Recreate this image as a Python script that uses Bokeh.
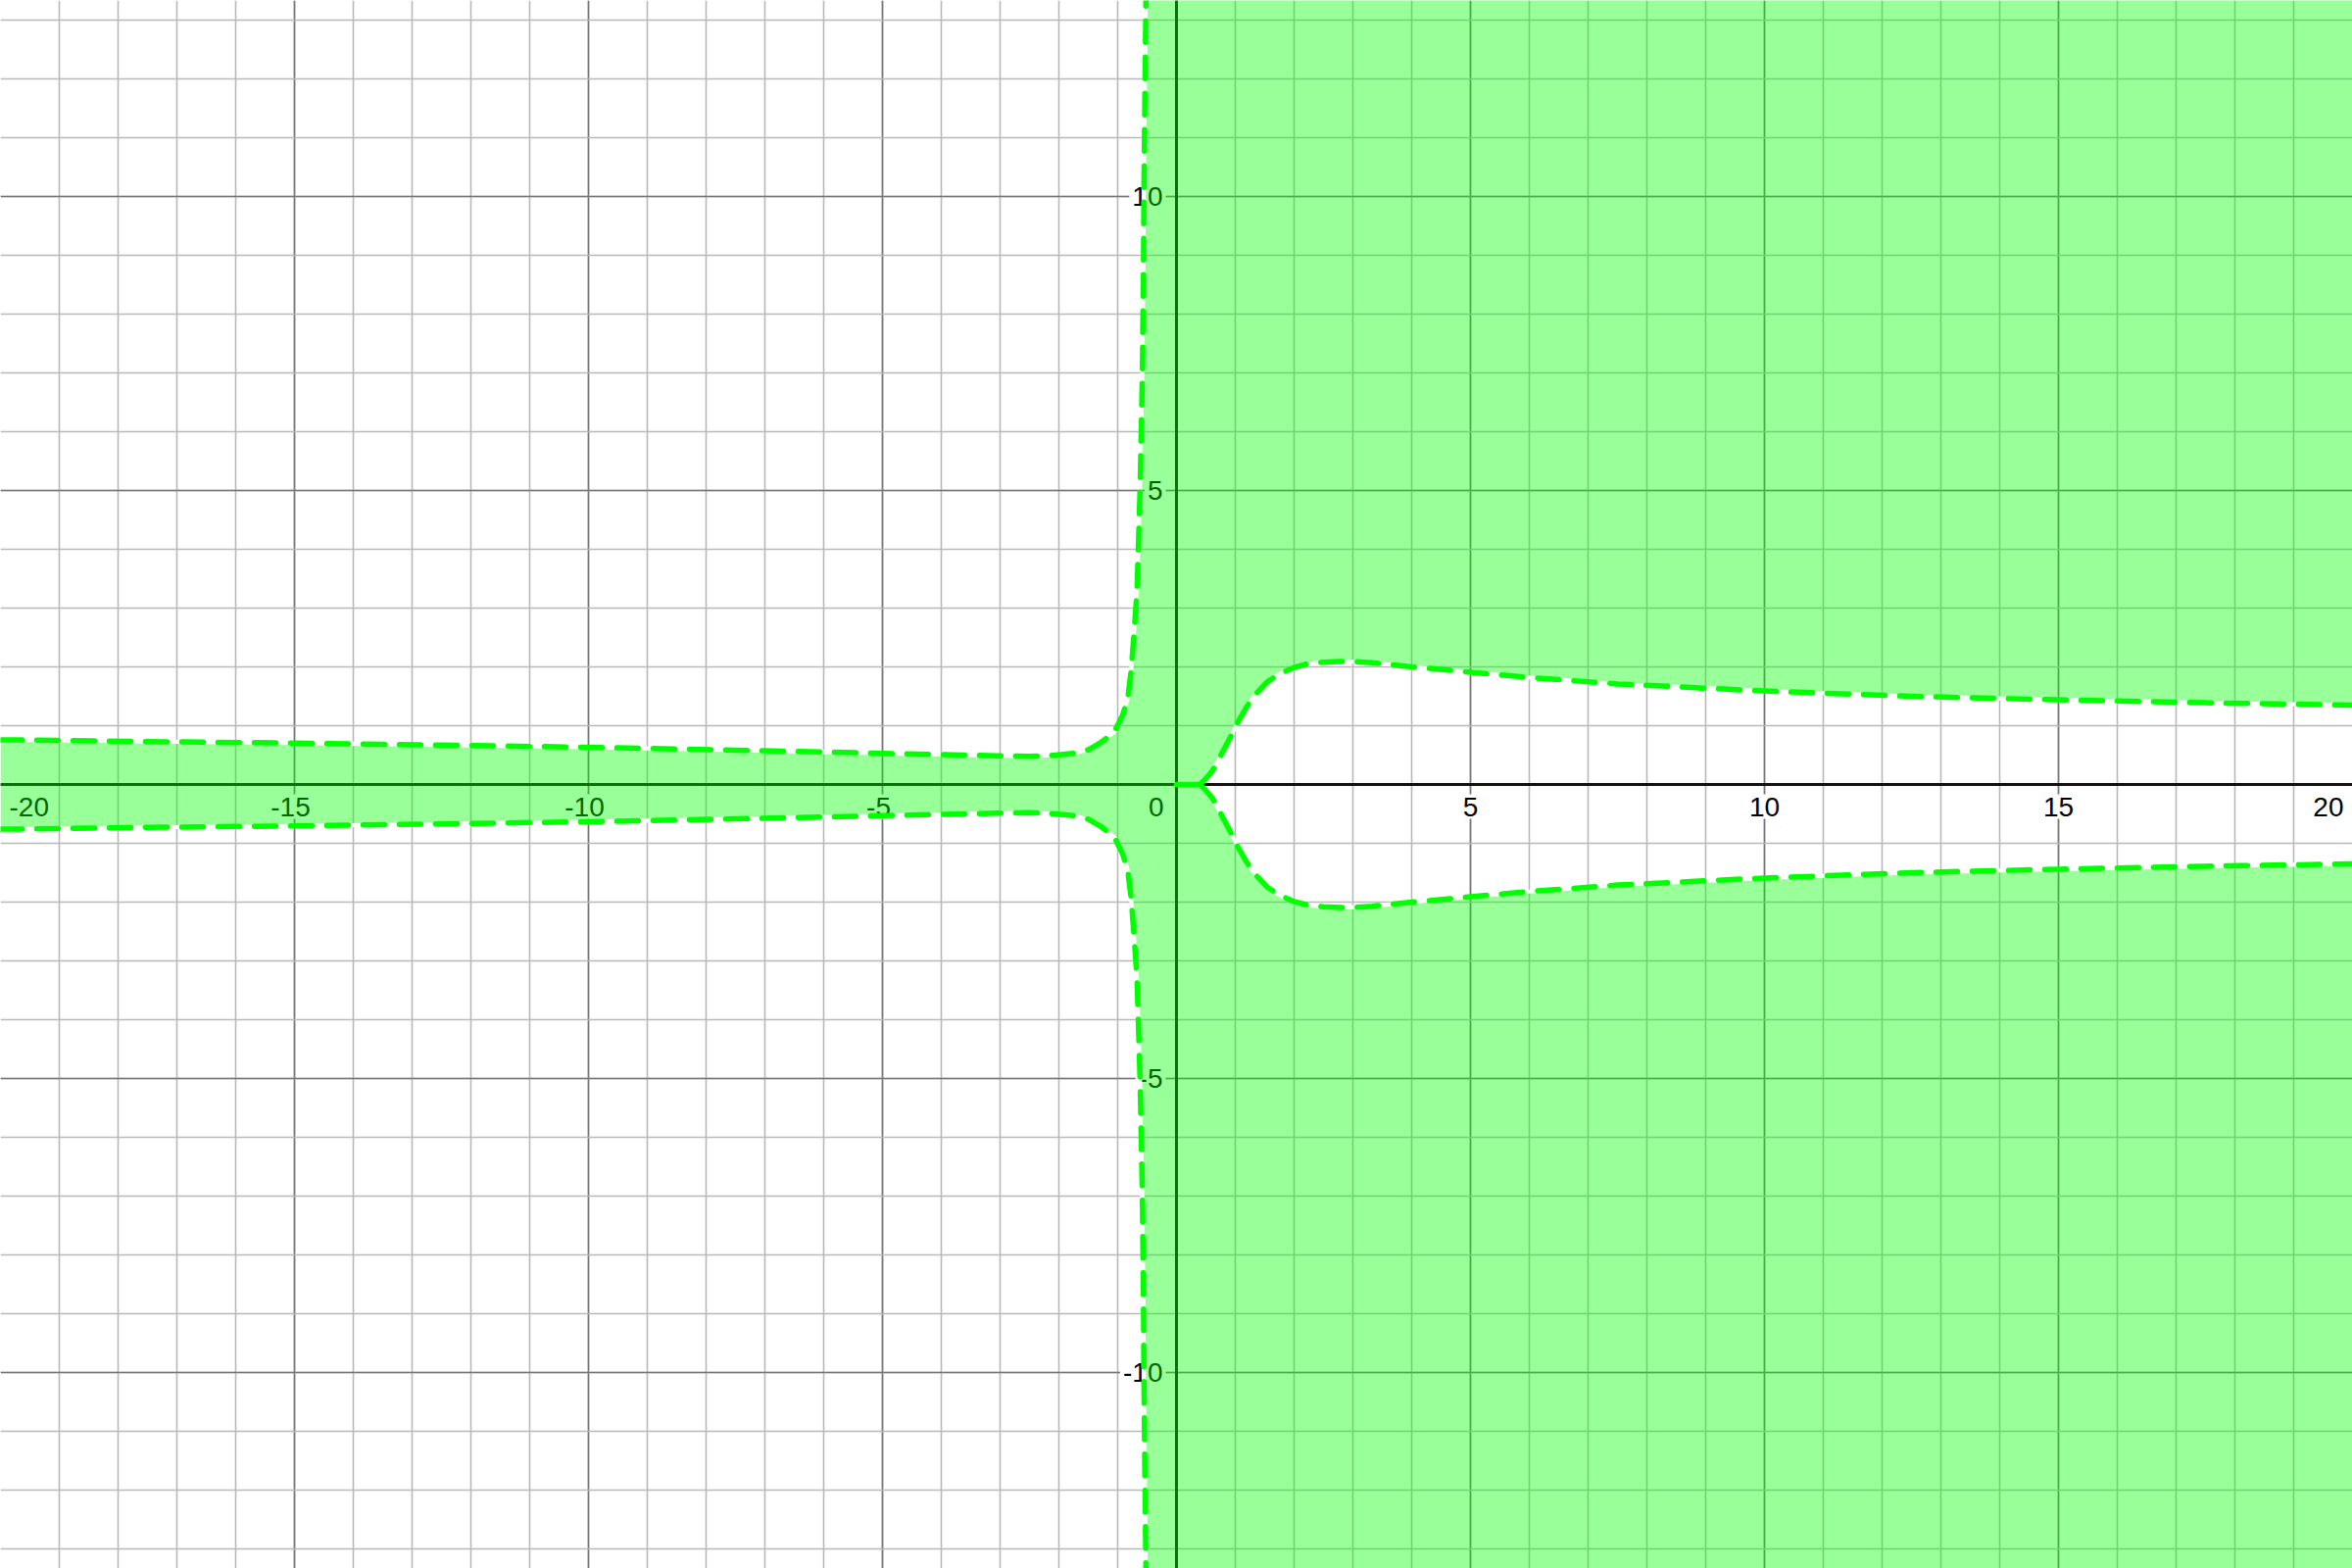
from bokeh.plotting import figure
from bokeh.models import Range1d, FixedTicker
from bokeh.embed import file_html
from bokeh.resources import INLINE
from bokeh.core.properties import value

# ---------------- data ----------------
X_MIN, X_MAX = -20.0, 20.0
Y_MIN, Y_MAX = -13.34, 13.34

major_ticks = [-20, -15, -10, -5, 0, 5, 10, 15, 20]
minor_ticks = list(range(-20, 21))

x_labels_neg = [-15, -10, -5]
x_labels_pos = [5, 10, 15]
y_labels = [10, 5, -5, -10]

# upper-left boundary: band above the negative x axis, turning up into the
# near-vertical branch left of the y axis
left_x = [-20, -19, -17.5, -15, -12.5, -10, -7.5, -5, -4, -3, -2.5, -2.06,
          -1.75, -1.5, -1.28, -1.06, -0.92, -0.83, -0.77, -0.72, -0.67,
          -0.65, -0.62, -0.6, -0.58, -0.57, -0.56, -0.555, -0.54, -0.52]
left_y = [0.76, 0.75, 0.73, 0.705, 0.67, 0.633, 0.585, 0.53, 0.51, 0.487,
          0.478, 0.5, 0.53, 0.59, 0.72, 0.89, 1.17, 1.45, 1.95, 2.6, 3.33,
          4.0, 5.0, 6.0, 7.0, 8.0, 9.0, 10.0, 11.5, 13.34]

# upper-right boundary of the white lobe right of the origin
right_x = [0.4, 0.5, 0.61, 0.72, 0.83, 0.95, 1.06, 1.2, 1.36, 1.55, 1.75,
           2.0, 2.22, 2.5, 2.78, 3.0, 3.33, 4.0, 5.0, 6.0, 7.5, 10, 12.5,
           15, 17.5, 20]
right_y = [0.0, 0.1, 0.23, 0.43, 0.64, 0.87, 1.09, 1.33, 1.55, 1.75, 1.88,
           1.99, 2.05, 2.08, 2.09, 2.09, 2.07, 2.0, 1.91, 1.82, 1.71, 1.59,
           1.5, 1.44, 1.39, 1.35]

# short piece of the boundary lying on the x axis
axis_seg_x = [0.0, 0.4]
axis_seg_y = [0.0, 0.0]

# the picture is symmetric about the x axis
left_y_low = [-v for v in left_y]
right_y_low = [-v for v in right_y]

# ---------------- figure ----------------
W, H = 2400, 1600
p = figure(width=W, height=H, output_backend="svg", toolbar_location=None,
           x_range=Range1d(X_MIN, X_MAX), y_range=Range1d(-13.3333, 13.3333),
           min_border=0, outline_line_color=None, background_fill_color="white",
           border_fill_color="white")
p.xaxis.visible = False
p.yaxis.visible = False

for g in (p.xgrid[0], p.ygrid[0]):
    g.ticker = FixedTicker(ticks=major_ticks, minor_ticks=minor_ticks)
    g.grid_line_color = "#787878"
    g.grid_line_width = 1.6
    g.minor_grid_line_color = "#b9b9b9"
    g.minor_grid_line_width = 1.6

# axis lines (drawn as glyphs so the shading covers them)
p.line([X_MIN, X_MAX], [0, 0], line_color="#141414", line_width=3)
p.line([0, 0], [-13.3333, 13.3333], line_color="#141414", line_width=3)

font = value("Liberation Sans")
common = dict(text_font=font, text_font_size="28px", text_color="black",
              background_fill_color="white", padding=3)

p.text(x=x_labels_neg, y=[0] * len(x_labels_neg), text=[str(v) for v in x_labels_neg],
       text_align="center", text_baseline="top", x_offset=-4, y_offset=10, **common)
p.text(x=x_labels_pos, y=[0] * len(x_labels_pos), text=[str(v) for v in x_labels_pos],
       text_align="center", text_baseline="top", y_offset=10, **common)
p.text(x=[major_ticks[0]], y=[0], text=[str(major_ticks[0])], text_align="left",
       text_baseline="top", x_offset=6, y_offset=10, **common)
p.text(x=[major_ticks[-1]], y=[0], text=[str(major_ticks[-1])], text_align="right",
       text_baseline="top", x_offset=-6, y_offset=10, **common)
p.text(x=[0], y=[0], text=["0"], text_align="right", text_baseline="top",
       x_offset=-10, y_offset=10, **common)
p.text(x=[0] * len(y_labels), y=y_labels, text=[str(v) for v in y_labels],
       text_align="right", text_baseline="middle", x_offset=-11, **common)

# shaded region
poly_x = (left_x + [X_MAX, X_MAX] + right_x[::-1] + right_x[1:]
          + [X_MAX, left_x[-1]] + left_x[::-1])
poly_y = (left_y + [left_y[-1], right_y[-1]] + right_y[::-1] + right_y_low[1:]
          + [left_y_low[-1], left_y_low[-1]] + left_y_low[::-1])
p.patch(poly_x, poly_y, fill_color="#00ff00", fill_alpha=0.4, line_color=None)

# boundary curves: white halo then dashed green
curves = [(left_x, left_y), (left_x, left_y_low), (right_x, right_y),
          (right_x, right_y_low), (axis_seg_x, axis_seg_y)]
for cx, cy in curves:
    p.line(cx, cy, line_color="white", line_width=4, line_join="round")
for cx, cy in curves:
    p.line(cx, cy, line_color="#00ff00", line_width=5.5, line_dash="22 15",
           line_cap="round", line_join="round")

open("out.html", "w").write(file_html(p, INLINE))
